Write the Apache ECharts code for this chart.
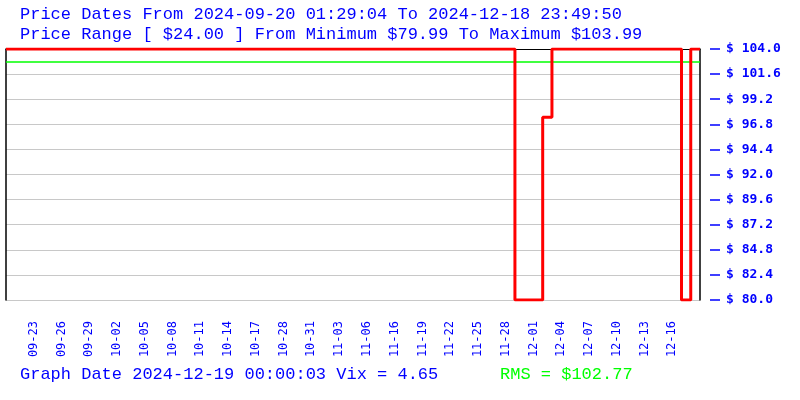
<!DOCTYPE html>
<html><head><meta charset="utf-8">
<script src="https://cdn.jsdelivr.net/npm/echarts@6/dist/echarts.min.js"></script>
<style>html,body{margin:0;padding:0;background:#fff}#c{width:800px;height:400px}</style>
</head><body><div id="c"></div>
<script>
// Categories (one per data sample)
var dates = [
 '09-20','09-21','09-22','09-23','09-24','09-25','09-26','09-27','09-28','09-29',
 '09-30','10-01','10-02','10-03','10-04','10-05','10-06','10-07','10-08','10-09',
 '10-10','10-11','10-12','10-13','10-14','10-15','10-16','10-17','10-21','10-25',
 '10-28','10-29','10-30','10-31','11-01','11-02','11-03','11-04','11-05','11-06',
 '11-08','11-12','11-16','11-17','11-18','11-19','11-20','11-21','11-22','11-23',
 '11-24','11-25','11-26','11-27','11-28','11-29','11-30','12-01','12-02','12-03',
 '12-04','12-05','12-06','12-07','12-08','12-09','12-10','12-11','12-12','12-13',
 '12-14','12-15','12-16','12-17','12-18','12-19'
];
// Price values
var prices = [
 103.99,103.99,103.99,103.99,103.99,103.99,103.99,103.99,103.99,103.99,
 103.99,103.99,103.99,103.99,103.99,103.99,103.99,103.99,103.99,103.99,
 103.99,103.99,103.99,103.99,103.99,103.99,103.99,103.99,103.99,103.99,
 103.99,103.99,103.99,103.99,103.99,103.99,103.99,103.99,103.99,103.99,
 103.99,103.99,103.99,103.99,103.99,103.99,103.99,103.99,103.99,103.99,
 103.99,103.99,103.99,103.99,103.99,79.99,79.99,79.99,97.47,103.99,
 103.99,103.99,103.99,103.99,103.99,103.99,103.99,103.99,103.99,103.99,
 103.99,103.99,103.99,79.99,103.99,103.99
];
var rms = 102.77;
var yMin = 80, yMax = 104, yStep = 2.4;
var titleLine1 = 'Price Dates From 2024-09-20 01:29:04 To 2024-12-18 23:49:50';
var titleLine2 = 'Price Range [ $24.00 ] From Minimum $79.99 To Maximum $103.99';
var footLeft = 'Graph Date 2024-12-19 00:00:03 Vix = 4.65';
var footRight = 'RMS = $102.77';

var BLUE = '#0000ff', GREEN = '#00ff00', RED = '#ff0000';
var TFONT = '"Liberation Mono", "DejaVu Sans Mono", monospace';
var AFONT = '"DejaVu Sans Mono", monospace';

var chart = echarts.init(document.getElementById('c'), null, {renderer: 'canvas'});
chart.setOption({
  animation: false,
  backgroundColor: '#fff',
  grid: {left: 6, right: 100, top: 49, bottom: 100, containLabel: false},
  xAxis: [{
    type: 'category', data: dates, boundaryGap: false, position: 'bottom',
    axisLine: {show: false}, axisTick: {show: false}, splitLine: {show: false},
    axisLabel: {
      rotate: 90, color: BLUE, fontFamily: AFONT, fontSize: 12, margin: 21,
      interval: function (i) { return i % 3 === 0 && i > 0 && i < dates.length - 1; }
    }
  }, {
    type: 'category', data: dates, boundaryGap: false, position: 'top',
    axisLine: {show: true, lineStyle: {color: '#000', width: 1}},
    axisTick: {show: false}, axisLabel: {show: false}, splitLine: {show: false}
  }],
  yAxis: [{
    type: 'value', position: 'right', min: yMin, max: yMax, interval: yStep,
    axisLine: {show: true, lineStyle: {color: '#000', width: 1.5}},
    axisTick: {show: false}, axisLabel: {show: false},
    splitLine: {show: true, lineStyle: {color: '#c8c8c8', width: 1}}
  }, {
    type: 'value', position: 'right', offset: 10, min: yMin, max: yMax, interval: yStep,
    axisLine: {show: false},
    axisTick: {show: true, inside: false, length: 10, lineStyle: {color: BLUE, width: 1.5}},
    axisLabel: {
      show: true, margin: 16, color: BLUE, fontFamily: AFONT, fontSize: 13, fontWeight: 'bold',
      formatter: function (v) { return '$ ' + v.toFixed(1); }
    },
    splitLine: {show: false}
  }, {
    type: 'value', position: 'left', min: yMin, max: yMax, interval: yStep,
    axisLine: {show: true, lineStyle: {color: '#000', width: 1.5}},
    axisTick: {show: false}, axisLabel: {show: false}, splitLine: {show: false}
  }],
  series: [{
    type: 'line', data: prices, step: 'end', xAxisIndex: 0, yAxisIndex: 0,
    symbol: 'none', lineStyle: {color: RED, width: 3}, z: 5,
    markLine: {
      silent: true, symbol: 'none', label: {show: false},
      lineStyle: {color: GREEN, width: 1.5, type: 'solid'},
      data: [{yAxis: rms}], z: 4
    }
  }],
  graphic: [
    {type: 'text', left: 20, top: 6, style: {text: titleLine1, fill: BLUE, font: '17px ' + TFONT}},
    {type: 'text', left: 20, top: 26, style: {text: titleLine2, fill: BLUE, font: '17px ' + TFONT}},
    {type: 'text', left: 20, top: 366, style: {text: footLeft, fill: BLUE, font: '17px ' + TFONT}},
    {type: 'text', left: 500, top: 366, style: {text: footRight, fill: GREEN, font: '17px ' + TFONT}}
  ]
});
</script>
</body></html>
